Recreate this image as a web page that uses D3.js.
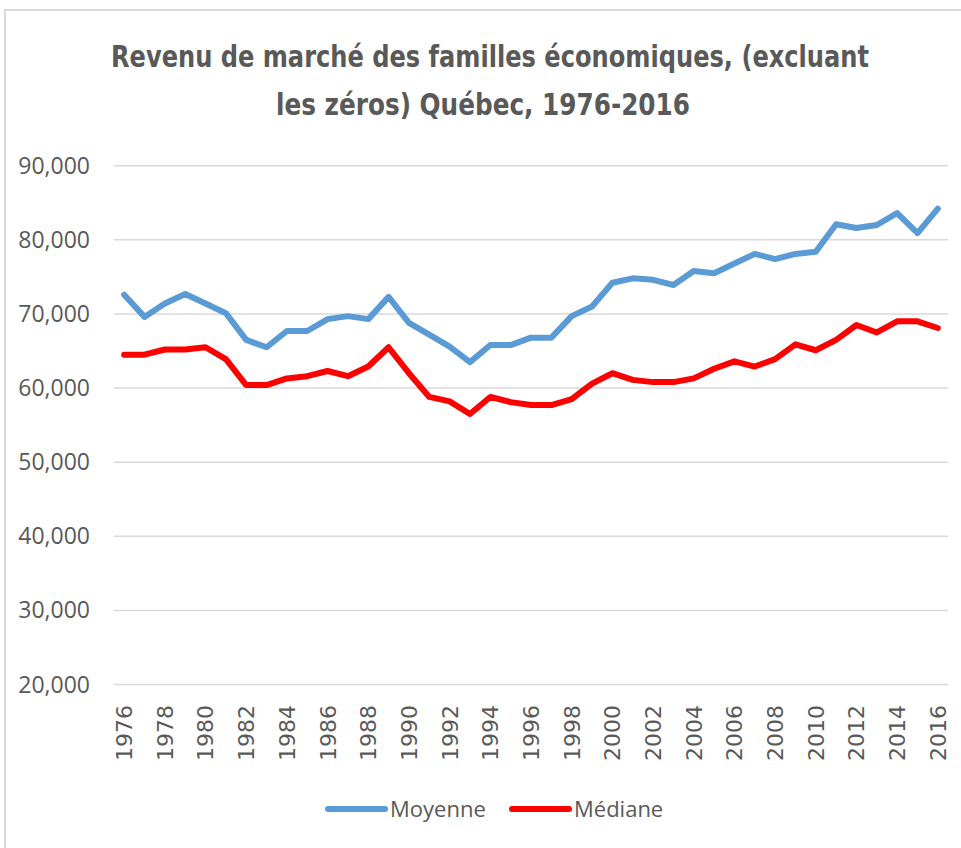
<!DOCTYPE html>
<html lang="fr">
  <head>
    <meta charset="utf-8" />
    <title>Revenu de marché des familles économiques</title>
    <style>
      body {
        margin: 0;
        background: #fff;
      }
      .grid line {
        stroke: #d9d9d9;
        stroke-width: 1.5;
      }
      .serie {
        fill: none;
        stroke-width: 6;
        stroke-linejoin: round;
        stroke-linecap: round;
      }
    </style>
    <script src="https://d3js.org/d3.v7.min.js"></script>
  </head>

  <body>
    <svg width="961" height="848"></svg>

    <script>
      const years = d3.range(1976, 2017);
      const moyenne = [
        72600, 69600, 71400, 72700, 71400, 70100, 66500, 65500, 67700,
        67700, 69300, 69700, 69300, 72300, 68800, 67200, 65600, 63500,
        65800, 65800, 66800, 66800, 69700, 71000, 74200, 74800, 74600,
        73900, 75800, 75500, 76800, 78100, 77400, 78100, 78400, 82100,
        81600, 82000, 83600, 80900, 84200,
      ];
      const mediane = [
        64500, 64500, 65200, 65200, 65500, 63900, 60400, 60400, 61300,
        61600, 62300, 61600, 62900, 65500, 62000, 58800, 58200, 56500,
        58800, 58100, 57700, 57700, 58500, 60600, 62000, 61100, 60800,
        60800, 61300, 62600, 63600, 62900, 63900, 65900, 65100, 66500,
        68500, 67500, 69000, 69000, 68100,
      ];
      const yTicks = [20000, 30000, 40000, 50000, 60000, 70000, 80000, 90000];
      const series = [
        { name: 'Moyenne', values: moyenne, color: '#5b9bd5' },
        { name: 'Médiane', values: mediane, color: '#ff0000' },
      ];

      const svg = d3.select('svg');
      const grey = '#595959';

      // cadre du graphique (coupé à droite et en bas)
      svg
        .append('rect')
        .attr('x', 5)
        .attr('y', 10)
        .attr('width', 1000)
        .attr('height', 900)
        .attr('fill', 'none')
        .attr('stroke', '#d9d9d9')
        .attr('stroke-width', 2);

      const x = d3
        .scalePoint()
        .domain(years)
        .range([114, 948])
        .padding(0.5);
      const y = d3
        .scaleLinear()
        .domain([20000, 90000])
        .range([684.5, 165.7]);

      // quadrillage
      svg
        .append('g')
        .attr('class', 'grid')
        .selectAll('line')
        .data(yTicks)
        .join('line')
        .attr('x1', 114)
        .attr('x2', 948)
        .attr('y1', (d) => y(d))
        .attr('y2', (d) => y(d));

      // axe Y
      const fmt = d3.format(',');
      svg
        .append('g')
        .selectAll('text')
        .data(yTicks)
        .join('text')
        .attr('x', 90)
        .attr('y', (d) => y(d))
        .attr('dy', '0.35em')
        .attr('text-anchor', 'end')
        .attr('font-family', 'Open Sans, sans-serif')
        .attr('font-size', 23)
        .attr('fill', grey)
        .text((d) => fmt(d));

      // axe X (une année sur deux, texte vertical)
      svg
        .append('g')
        .selectAll('text')
        .data(years.filter((d) => d % 2 === 0))
        .join('text')
        .attr(
          'transform',
          (d) => `translate(${x(d)},705) rotate(-90)`,
        )
        .attr('dy', '0.36em')
        .attr('text-anchor', 'end')
        .attr('font-family', 'DejaVu Sans, sans-serif')
        .attr('font-size', 22)
        .attr('fill', grey)
        .text((d) => d);

      // séries
      const line = d3
        .line()
        .x((d, i) => x(years[i]))
        .y((d) => y(d));

      svg
        .selectAll('.serie')
        .data(series)
        .join('path')
        .attr('class', 'serie')
        .attr('stroke', (d) => d.color)
        .attr('d', (d) => line(d.values));

      // titre
      const title = svg
        .append('g')
        .attr('font-family', 'DejaVu Sans Condensed, sans-serif')
        .attr('font-stretch', 'condensed')
        .attr('font-weight', 'bold')
        .attr('font-size', 30)
        .attr('fill', grey)
        .attr('text-anchor', 'middle');
      title
        .append('text')
        .attr('x', 490)
        .attr('y', 67)
        .attr('textLength', 758)
        .attr('lengthAdjust', 'spacingAndGlyphs')
        .text('Revenu de marché des familles économiques, (excluant');
      title
        .append('text')
        .attr('x', 483)
        .attr('y', 115)
        .attr('textLength', 414)
        .attr('lengthAdjust', 'spacingAndGlyphs')
        .text('les zéros) Québec, 1976-2016');

      // légende
      const legend = svg
        .append('g')
        .selectAll('g')
        .data(series)
        .join('g')
        .attr('transform', (d, i) => `translate(${328 + i * 184},809)`);
      legend
        .append('line')
        .attr('x1', 0)
        .attr('x2', 57)
        .attr('stroke', (d) => d.color)
        .attr('stroke-width', 6)
        .attr('stroke-linecap', 'round');
      legend
        .append('text')
        .attr('x', 62)
        .attr('dy', '0.35em')
        .attr('font-family', 'Open Sans, sans-serif')
        .attr('font-size', 22)
        .attr('fill', grey)
        .text((d) => d.name);
    </script>
  </body>
</html>
